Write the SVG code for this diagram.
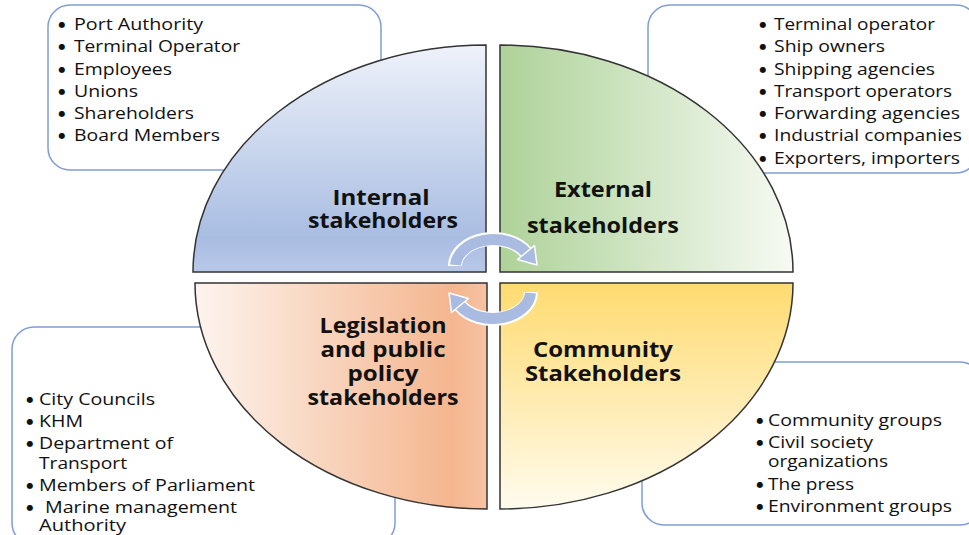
<svg xmlns="http://www.w3.org/2000/svg" width="969" height="535" viewBox="0 0 969 535">
<defs>
<linearGradient id="gInt" x1="0" y1="0" x2="0" y2="1">
<stop offset="0" stop-color="#eef2fa"/><stop offset="0.85" stop-color="#a9bde2"/><stop offset="1" stop-color="#b8c8e8"/>
</linearGradient>
<linearGradient id="gExt" x1="0" y1="0" x2="1" y2="0">
<stop offset="0" stop-color="#aed299"/><stop offset="1" stop-color="#f6faf3"/>
</linearGradient>
<linearGradient id="gLeg" x1="0" y1="0" x2="1" y2="0">
<stop offset="0" stop-color="#fdf4ee"/><stop offset="0.88" stop-color="#f4b68f"/><stop offset="1" stop-color="#f6c2a2"/>
</linearGradient>
<linearGradient id="gCom" x1="0" y1="0" x2="0" y2="1">
<stop offset="0" stop-color="#ffdb70"/><stop offset="1" stop-color="#fffbee"/>
</linearGradient>
<style>
.box{fill:#fff;stroke:#7f9dd3;stroke-width:1.5}
.q{stroke:#333;stroke-width:1.5}
.li{font-family:"Open Sans","DejaVu Sans",sans-serif;font-size:16.5px;fill:#111}
.bu{font-family:"DejaVu Sans",sans-serif;font-size:8px;fill:#111;text-anchor:middle}
.lab{font-family:"Open Sans","DejaVu Sans",sans-serif;font-size:21.5px;font-weight:bold;fill:#111;text-anchor:middle}
.band{fill:none;stroke:#a9bbe0;stroke-width:11;stroke-linecap:butt}
.bandw{fill:none;stroke:#fff;stroke-width:14;stroke-linecap:butt}
.head{fill:#a9bbe0;stroke:#fff;stroke-width:1.5;stroke-linejoin:round}
</style>
</defs>
<rect width="969" height="535" fill="#fff"/>

<g id="box-internal">
<rect class="box" x="48" y="5" width="333" height="165" rx="22"/>
<g class="bu"><text x="62" y="27">●</text><text x="62" y="49">●</text><text x="62" y="72">●</text><text x="62" y="94">●</text><text x="62" y="116">●</text><text x="62" y="138">●</text></g>
<text class="li" x="74" y="30" textLength="129" lengthAdjust="spacingAndGlyphs">Port Authority</text>
<text class="li" x="74" y="52" textLength="166" lengthAdjust="spacingAndGlyphs">Terminal Operator</text>
<text class="li" x="74" y="75" textLength="98" lengthAdjust="spacingAndGlyphs">Employees</text>
<text class="li" x="74" y="97" textLength="64" lengthAdjust="spacingAndGlyphs">Unions</text>
<text class="li" x="74" y="119" textLength="120" lengthAdjust="spacingAndGlyphs">Shareholders</text>
<text class="li" x="74" y="141" textLength="146" lengthAdjust="spacingAndGlyphs">Board Members</text>
</g>

<g id="box-external">
<rect class="box" x="648" y="5" width="330" height="168" rx="22"/>
<g class="bu"><text x="763" y="27">●</text><text x="763" y="49">●</text><text x="763" y="72">●</text><text x="763" y="94">●</text><text x="763" y="116">●</text><text x="763" y="138">●</text><text x="763" y="161">●</text></g>
<text class="li" x="774" y="30" textLength="161" lengthAdjust="spacingAndGlyphs">Terminal operator</text>
<text class="li" x="774" y="52" textLength="111" lengthAdjust="spacingAndGlyphs">Ship owners</text>
<text class="li" x="774" y="75" textLength="161" lengthAdjust="spacingAndGlyphs">Shipping agencies</text>
<text class="li" x="774" y="97" textLength="178" lengthAdjust="spacingAndGlyphs">Transport operators</text>
<text class="li" x="774" y="119" textLength="186" lengthAdjust="spacingAndGlyphs">Forwarding agencies</text>
<text class="li" x="774" y="141" textLength="188" lengthAdjust="spacingAndGlyphs">Industrial companies</text>
<text class="li" x="774" y="164" textLength="186" lengthAdjust="spacingAndGlyphs">Exporters, importers</text>
</g>

<g id="box-legislation">
<rect class="box" x="12" y="327" width="383" height="218" rx="22"/>
<g class="bu"><text x="30" y="402">●</text><text x="30" y="424">●</text><text x="30" y="446">●</text><text x="30" y="488">●</text><text x="30" y="510">●</text></g>
<text class="li" x="39" y="405" textLength="116" lengthAdjust="spacingAndGlyphs">City Councils</text>
<text class="li" x="39" y="427" textLength="44" lengthAdjust="spacingAndGlyphs">KHM</text>
<text class="li"><tspan x="39" y="449" textLength="134" lengthAdjust="spacingAndGlyphs">Department of</tspan><tspan x="39" y="469" textLength="88" lengthAdjust="spacingAndGlyphs">Transport</tspan></text>
<text class="li" x="39" y="491" textLength="216" lengthAdjust="spacingAndGlyphs">Members of Parliament</text>
<text class="li"><tspan x="45" y="513" textLength="192" lengthAdjust="spacingAndGlyphs">Marine management</tspan><tspan x="39" y="531" textLength="87" lengthAdjust="spacingAndGlyphs">Authority</tspan></text>
</g>

<g id="box-community">
<rect class="box" x="642" y="362" width="340" height="163" rx="22"/>
<g class="bu"><text x="760" y="423">●</text><text x="760" y="445">●</text><text x="760" y="487">●</text><text x="760" y="509">●</text></g>
<text class="li" x="768" y="426" textLength="174" lengthAdjust="spacingAndGlyphs">Community groups</text>
<text class="li"><tspan x="768" y="448" textLength="105" lengthAdjust="spacingAndGlyphs">Civil society</tspan><tspan x="768" y="467" textLength="120" lengthAdjust="spacingAndGlyphs">organizations</tspan></text>
<text class="li" x="768" y="490" textLength="86" lengthAdjust="spacingAndGlyphs">The press</text>
<text class="li" x="768" y="512" textLength="184" lengthAdjust="spacingAndGlyphs">Environment groups</text>
</g>

<g id="q-internal">
<path class="q" fill="url(#gInt)" d="M486,45 L486,272 L193,272 A293,227 0 0 1 486,45 Z"/>
<text class="lab"><tspan x="381" y="205" textLength="97" lengthAdjust="spacingAndGlyphs">Internal</tspan><tspan x="383" y="228" textLength="150" lengthAdjust="spacingAndGlyphs">stakeholders</tspan></text>
</g>
<g id="q-external">
<path class="q" fill="url(#gExt)" d="M500,45 A293,227 0 0 1 793,272 L500,272 Z"/>
<text class="lab" x="603" y="197" textLength="98" lengthAdjust="spacingAndGlyphs">External</text>
<text class="lab" x="603" y="233" textLength="152" lengthAdjust="spacingAndGlyphs">stakeholders</text>
</g>
<g id="q-legislation">
<path class="q" fill="url(#gLeg)" d="M487,283 L487,509 A292,226 0 0 1 195,283 Z"/>
<text class="lab"><tspan x="383" y="333" textLength="127" lengthAdjust="spacingAndGlyphs">Legislation</tspan><tspan x="383" y="357" textLength="125" lengthAdjust="spacingAndGlyphs">and public</tspan><tspan x="383" y="381" textLength="71" lengthAdjust="spacingAndGlyphs">policy</tspan><tspan x="383" y="405" textLength="151" lengthAdjust="spacingAndGlyphs">stakeholders</tspan></text>
</g>
<g id="q-community">
<path class="q" fill="url(#gCom)" d="M500,283 L793,283 A293,226 0 0 1 500,509 Z"/>
<text class="lab"><tspan x="603" y="357" textLength="140" lengthAdjust="spacingAndGlyphs">Community</tspan><tspan x="603" y="381" textLength="156" lengthAdjust="spacingAndGlyphs">Stakeholders</tspan></text>
</g>

<g id="connectors">
<g id="arrow-top">
<path class="bandw" d="M455,266 A38,27 0 0 1 525.9,252.5"/>
<path class="band" d="M455.5,265 A38,27 0 0 1 525.9,252.5"/>
<polygon class="head" points="537,265 534.5,245.5 517.5,259.5"/>
</g>
<g id="arrow-bottom" transform="rotate(180 493 279)">
<path class="bandw" d="M455,266 A38,27 0 0 1 525.9,252.5"/>
<path class="band" d="M455.5,265 A38,27 0 0 1 525.9,252.5"/>
<polygon class="head" points="537,265 534.5,245.5 517.5,259.5"/>
</g>
</g>
</svg>
